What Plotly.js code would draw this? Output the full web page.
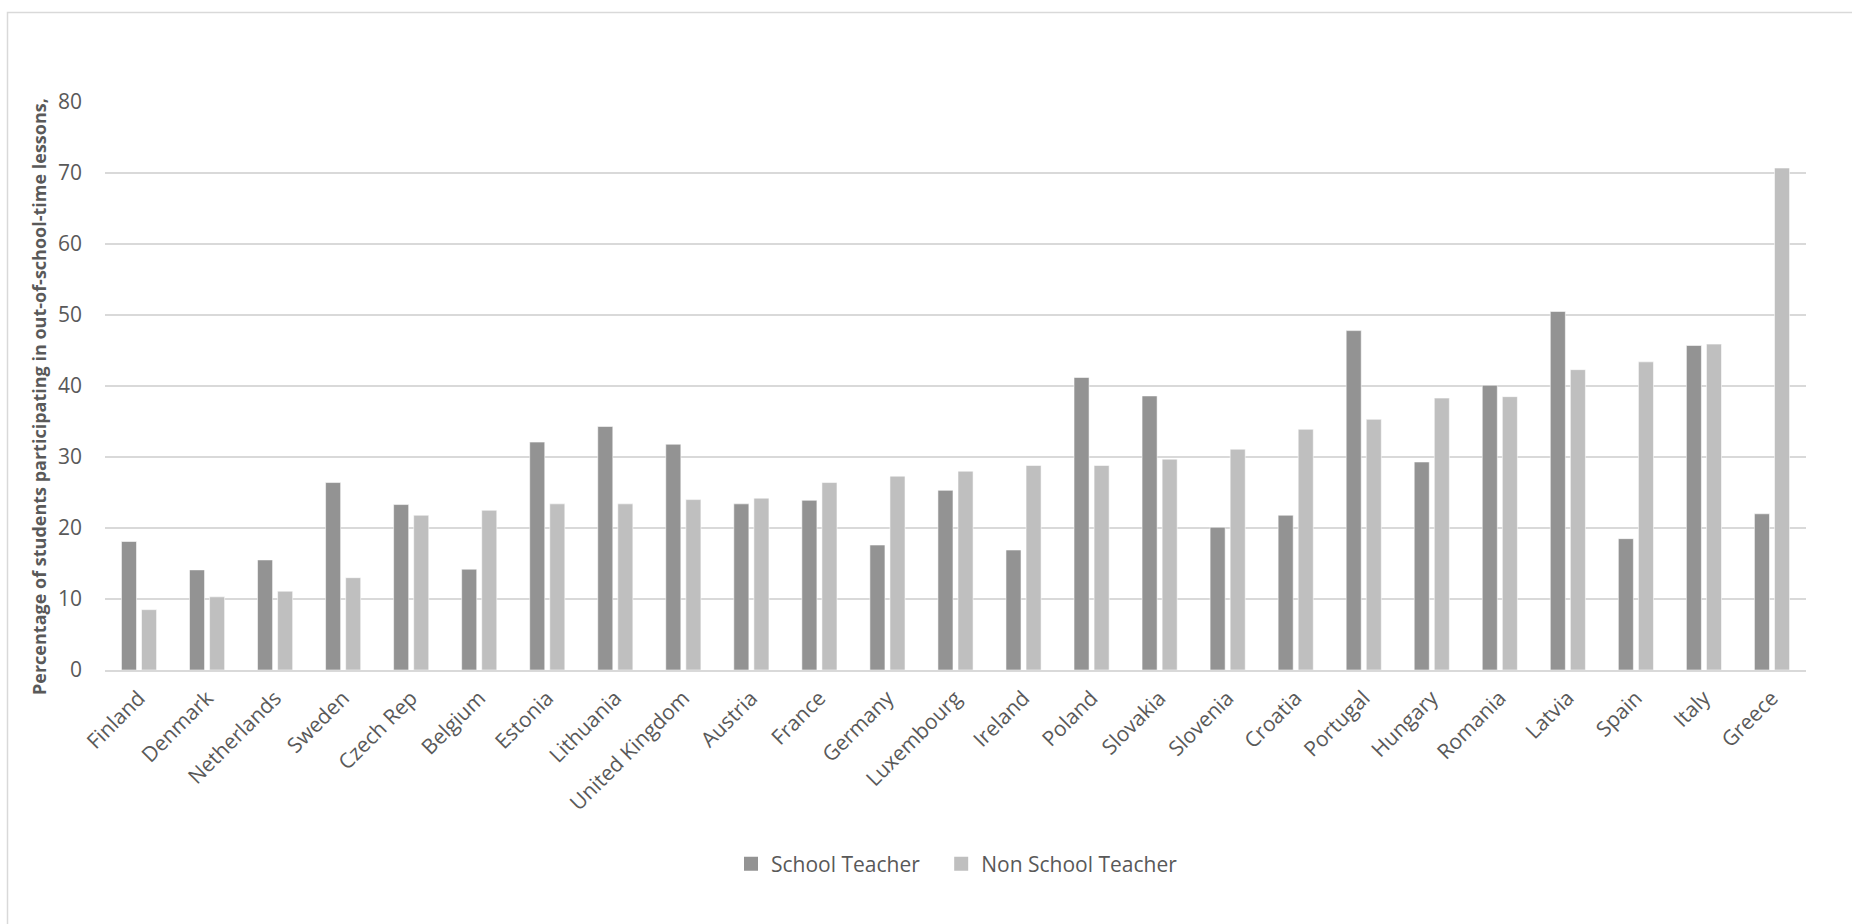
<!DOCTYPE html>
<html>
<head>
<meta charset="utf-8">
<script src="https://cdn.plot.ly/plotly-3.0.1.min.js"></script>
<style>
  html, body { margin: 0; padding: 0; background: #ffffff; }
  #chart { width: 1852px; height: 924px; }
</style>
</head>
<body>
<div id="chart"></div>
<script>
// Countries, ordered by the share among non-school-teacher tutoring
const countries = [
  'Finland', 'Denmark', 'Netherlands', 'Sweden', 'Czech Rep', 'Belgium',
  'Estonia', 'Lithuania', 'United Kingdom', 'Austria', 'France', 'Germany',
  'Luxembourg', 'Ireland', 'Poland', 'Slovakia', 'Slovenia', 'Croatia',
  'Portugal', 'Hungary', 'Romania', 'Latvia', 'Spain', 'Italy', 'Greece'
];

// Percentage of students taking out-of-school-time lessons, by tutor type
const schoolTeacher = [
  18.1, 14.1, 15.5, 26.4, 23.3, 14.2,
  32.1, 34.3, 31.8, 23.4, 23.9, 17.6,
  25.3, 16.9, 41.2, 38.6, 20.1, 21.8,
  47.8, 29.3, 40.1, 50.5, 18.5, 45.7, 22.0
];
const nonSchoolTeacher = [
  8.5, 10.3, 11.1, 13.0, 21.8, 22.5,
  23.4, 23.4, 24.0, 24.2, 26.4, 27.3,
  28.0, 28.8, 28.8, 29.7, 31.1, 33.9,
  35.3, 38.3, 38.5, 42.3, 43.4, 45.9, 70.7
];

const seriesNames = ['School Teacher', 'Non School Teacher'];
const seriesColors = ['#939393', '#bfbfbf'];
const yTicks = [0, 10, 20, 30, 40, 50, 60, 70, 80];
const yTitle = 'Percentage of students participating in out-of-school-time lessons,';

const FONT = '"Open Sans", "Liberation Sans", sans-serif';
const TEXT = '#595959';
const GRID = '#d9d9d9';

const barLine = { color: 'rgba(255,255,255,0.55)', width: 1 };
// a little extra room after the first legend entry
const legendPad = '\u00a0\u00a0\u00a0';

const traces = [
  {
    type: 'bar',
    name: seriesNames[0],
    x: countries,
    y: schoolTeacher,
    marker: { color: seriesColors[0], line: barLine },
    showlegend: false,
    hoverinfo: 'x+y+name'
  },
  {
    type: 'bar',
    name: seriesNames[1],
    x: countries,
    y: nonSchoolTeacher,
    marker: { color: seriesColors[1], line: barLine },
    showlegend: false,
    hoverinfo: 'x+y+name'
  },
  // legend keys: larger square swatches for the two series
  {
    type: 'scatter',
    mode: 'markers',
    name: seriesNames[0] + legendPad,
    x: [null],
    y: [null],
    marker: { symbol: 'square', size: 14, color: seriesColors[0] },
    hoverinfo: 'skip'
  },
  {
    type: 'scatter',
    mode: 'markers',
    name: seriesNames[1],
    x: [null],
    y: [null],
    marker: { symbol: 'square', size: 14, color: seriesColors[1] },
    hoverinfo: 'skip'
  }
];

// plot area in pixels: left 105, right 1806, top 102, bottom 670
const L = 105, R = 1806, T = 102, B = 670;
const W = 1852, H = 924;
const px2x = p => (p - L) / (R - L);
const px2y = p => (B - p) / (B - T);

const layout = {
  width: W,
  height: H,
  margin: { l: L, r: W - R, t: T, b: H - B, pad: 0 },
  paper_bgcolor: '#ffffff',
  plot_bgcolor: '#ffffff',
  font: { family: FONT, color: TEXT, size: 21 },
  barmode: 'group',
  bargap: 0.41,
  bargroupgap: 0.25,
  xaxis: {
    type: 'category',
    categoryorder: 'array',
    categoryarray: countries,
    tickangle: -45,
    tickfont: { family: FONT, size: 21, color: TEXT },
    showgrid: false,
    zeroline: false,
    showline: true,
    linecolor: GRID,
    linewidth: 1.5,
    ticks: '',
    ticklabelstandoff: 6,
    automargin: false
  },
  yaxis: {
    range: [0, 80],
    tickvals: yTicks,
    ticktext: yTicks.map(String),
    tickfont: { family: FONT, size: 21, color: TEXT },
    showgrid: true,
    gridcolor: GRID,
    gridwidth: 1.5,
    zeroline: false,
    showline: false,
    ticks: '',
    ticklabelstandoff: 22,
    automargin: false
  },
  annotations: [
    {
      text: '<b>' + yTitle + '</b>',
      xref: 'paper', yref: 'paper',
      x: px2x(39), y: px2y(397),
      xanchor: 'center', yanchor: 'middle',
      textangle: -90,
      showarrow: false,
      font: { family: FONT, size: 18, color: TEXT }
    }
  ],
  legend: {
    orientation: 'h',
    x: px2x(731),
    xanchor: 'left',
    y: px2y(864),
    yanchor: 'middle',
    font: { family: FONT, size: 21, color: TEXT },
    itemwidth: 30,
    traceorder: 'normal'
  },
  shapes: [
    // chart frame, open to the right and bottom
    {
      type: 'rect',
      xref: 'paper', yref: 'paper',
      x0: px2x(7.5), x1: px2x(1900),
      y0: px2y(1000), y1: px2y(12.5),
      line: { color: GRID, width: 1.5 },
      fillcolor: 'rgba(0,0,0,0)',
      layer: 'below'
    }
  ],
  showlegend: true
};

Plotly.newPlot('chart', traces, layout, { displayModeBar: false, staticPlot: true });
</script>
</body>
</html>
